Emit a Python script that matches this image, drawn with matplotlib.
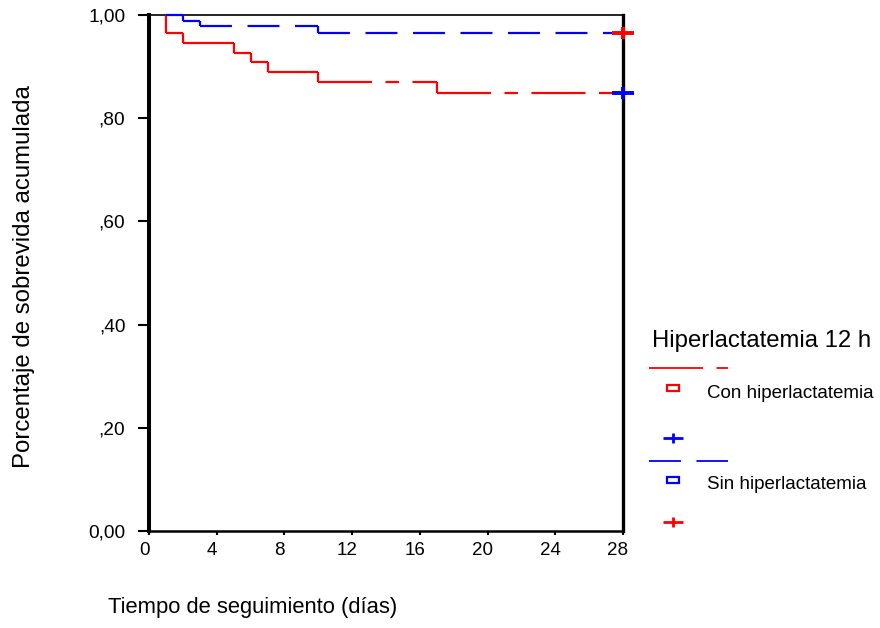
import matplotlib
matplotlib.use("Agg")
import matplotlib.pyplot as plt
import matplotlib.transforms as mtransforms
from matplotlib.lines import Line2D
from matplotlib.patches import Rectangle
from matplotlib.path import Path

plt.rcParams['font.family'] = ['Liberation Sans', 'DejaVu Sans']
plt.rcParams['lines.scale_dashes'] = False

# Kaplan-Meier data
t_start = 1
t_end = 28
con_times = [1, 2, 5, 6, 7, 10, 17]
con_surv = [0.966, 0.946, 0.927, 0.909, 0.890, 0.870, 0.849]
sin_times = [2, 3, 10]
sin_surv = [0.989, 0.979, 0.966]
censor_time = 28

x_ticks = [0, 4, 8, 12, 16, 20, 24, 28]
y_ticks = [0.0, 0.2, 0.4, 0.6, 0.8, 1.0]
y_tick_labels = ['0,00', ',20', ',40', ',60', ',80', '1,00']

group_labels = ['Con hiperlactatemia', 'Sin hiperlactatemia']
legend_title = 'Hiperlactatemia 12 h'

RED = '#ff0000'
BLUE = '#0000ff'
red_dash = (0, (38.9, 9.7, 9.7, 9.7))
blue_dash = (0, (23.0, 11.2))

W, H = 880, 628
fig = plt.figure(figsize=(W / 100, H / 100), dpi=100)
ax = fig.add_axes([149 / W, 1 - 531 / H, 474 / W, 516 / H])


def fx(px):
    return px / W


def fy(py):
    return 1 - py / H


# plus shape that is wider than tall, like the original
plus_path = Path([(-1, 0), (1, 0), (0, -0.55), (0, 0.55)],
                 [Path.MOVETO, Path.LINETO, Path.MOVETO, Path.LINETO])


def draw_curve(times, surv, color, dash):
    level = 1.0
    prev = t_start
    for t, s in zip(times + [t_end], surv + [None]):
        if t > prev:
            ax.plot([prev, t], [level, level], color=color, lw=1.6,
                    linestyle=dash, clip_on=False, zorder=4)
        if s is not None:
            ax.plot([t, t], [level, s], color=color, lw=1.6,
                    clip_on=False, zorder=4, solid_capstyle='butt')
            level = s
        prev = t
    return level


con_last = draw_curve(con_times, con_surv, RED, red_dash)
sin_last = draw_curve(sin_times, sin_surv, BLUE, blue_dash)

# censored markers (colours swapped as in the source output)
ax.plot([censor_time], [sin_last], marker=plus_path, ms=16.5, mew=2.8,
        color=RED, clip_on=False, zorder=5, linestyle='none')
ax.plot([censor_time], [con_last], marker=plus_path, ms=16.5, mew=2.8,
        color=BLUE, clip_on=False, zorder=5, linestyle='none')

ax.set_xlim(0, 28)
ax.set_ylim(0, 1)
ax.set_xticks(x_ticks)
ax.set_xticklabels([str(v) for v in x_ticks])
ax.set_yticks(y_ticks)
ax.set_yticklabels(y_tick_labels)

ax.spines['left'].set_linewidth(2.9)
ax.spines['right'].set_linewidth(2.4)
ax.spines['bottom'].set_linewidth(1.8)
ax.spines['top'].set_linewidth(1.2)
for sp in ax.spines.values():
    sp.set_color('#000000')

ax.tick_params(axis='y', direction='out', length=8, width=1.5, pad=9,
               labelsize=13.8, colors='black')
ax.tick_params(axis='x', direction='out', length=3, width=1.5, pad=5,
               labelsize=13.5, colors='black')
offset = mtransforms.ScaledTranslation(-5 / 100, 0, fig.dpi_scale_trans)
for lab in ax.get_xticklabels():
    lab.set_transform(lab.get_transform() + offset)

fig.text(fx(24), fy(277), 'Porcentaje de sobrevida acumulada', rotation=90,
         ha='center', va='center', fontsize=17.3)
fig.text(fx(108), fy(613), 'Tiempo de seguimiento (días)', ha='left',
         va='baseline', fontsize=15.8)

# legend drawn by hand in the SPSS layout
fig.text(fx(652), fy(347), legend_title, ha='left', va='baseline', fontsize=17.2)
entries = [
    (group_labels[0], RED, red_dash, 368, 388, 398, BLUE, 438),
    (group_labels[1], BLUE, blue_dash, 461, 480, 489, RED, 522),
]
for label, col, dash, y_line, y_box, y_text, cens_col, y_cens in entries:
    fig.add_artist(Line2D([fx(649), fx(728)], [fy(y_line), fy(y_line)],
                          color=col, lw=1.3, linestyle=dash))
    fig.add_artist(Rectangle((fx(667), fy(y_box + 3)), 12 / W, 6 / H,
                             fill=False, edgecolor=col, lw=1.6))
    fig.text(fx(707), fy(y_text), label, ha='left', va='baseline',
             fontsize=13.5)
    fig.add_artist(Line2D([fx(673)], [fy(y_cens)], marker=plus_path, ms=14,
                          mew=2.0, color=cens_col, linestyle='none'))

fig.savefig('out.png', dpi=100)
